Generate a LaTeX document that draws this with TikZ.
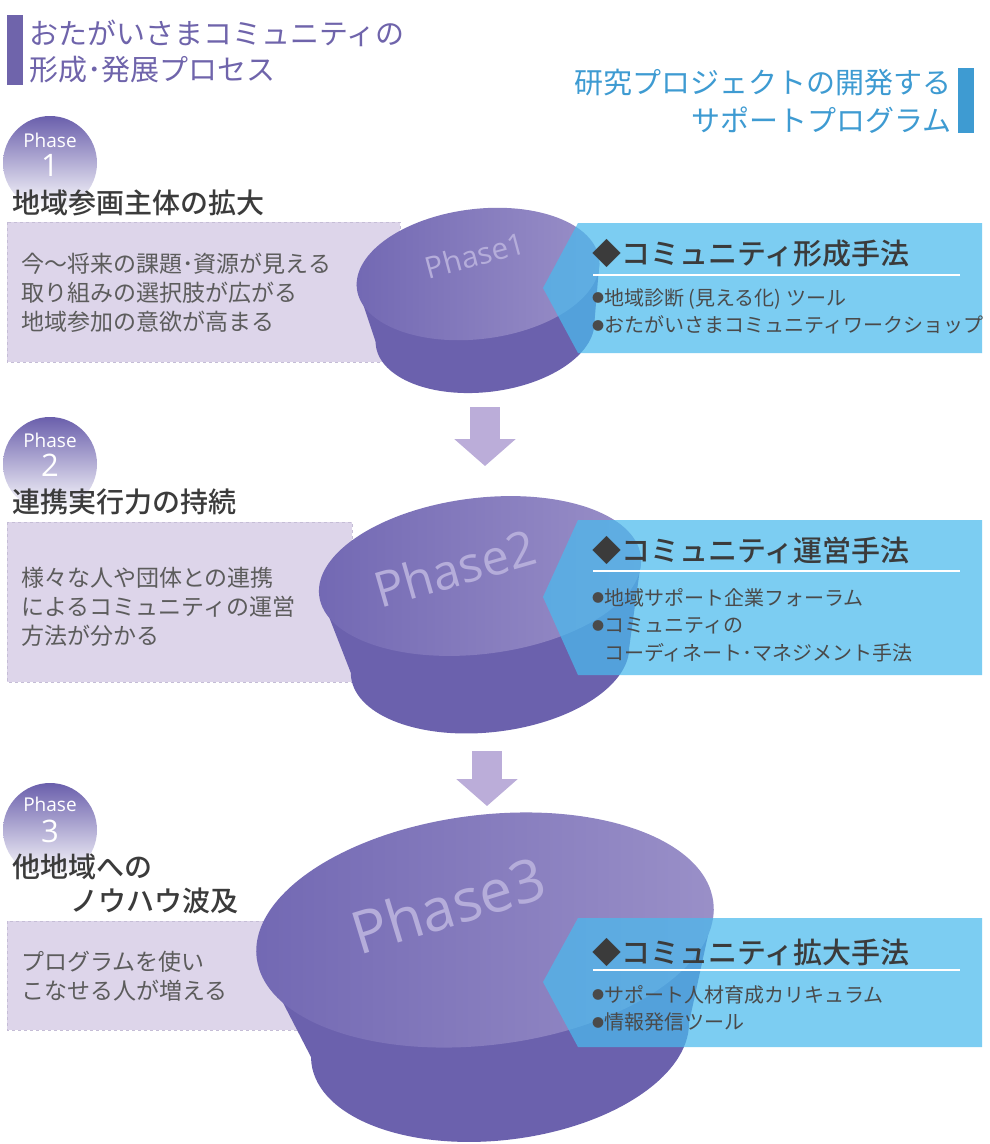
\documentclass[tikz,border=0pt]{standalone}
\usepackage{fontspec}
\setmainfont{Noto Sans CJK JP}
\newfontfamily\jpmedium{Noto Sans CJK JP}[UprightFont=* Medium]
\newfontfamily\phasefont{Open Sans}
\usetikzlibrary{arrows.meta}

\definecolor{titlepurple}{HTML}{6F64AB}
\definecolor{titleblue}{HTML}{3E9BD2}
\definecolor{phasepurple}{HTML}{6A5FAC}
\definecolor{topdark}{HTML}{7268B3}
\definecolor{toplight}{HTML}{9A90C8}
\definecolor{sidepurple}{HTML}{6B61AD}
\definecolor{descfill}{HTML}{DDD5EA}
\definecolor{descline}{HTML}{C5BDD6}
\definecolor{desctext}{HTML}{5C5C5C}
\definecolor{darktext}{HTML}{3B3B3B}
\definecolor{tooltext}{HTML}{4A4A4A}
\definecolor{methodblue}{RGB}{74,186,237}
\definecolor{arrowlilac}{HTML}{BBADD9}
\definecolor{phaselabel}{HTML}{B5ADDA}

\newcommand{\dotmark}{\raisebox{2.6pt}{\fontsize{12}{12}\selectfont ●}}

% disc: name, top centre, rx, ry, bottom centre, rx, ry
\newcommand{\phasedisc}[7]{%
  \begin{scope}[shift={#2},rotate=7]
    \coordinate (#1tl) at (176.5:#3pt and #4pt);
    \coordinate (#1tr) at (-3.5:#3pt and #4pt);
  \end{scope}
  \begin{scope}[shift={#5},rotate=7]
    \coordinate (#1bl) at (176.5:#6pt and #7pt);
    \coordinate (#1br) at (-3.5:#6pt and #7pt);
  \end{scope}
  \fill[sidepurple,rotate around={7:#5}] #5 ellipse [x radius=#6pt, y radius=#7pt];
  \fill[sidepurple] (#1tl) -- (#1tr) -- (#1br) -- (#1bl) -- cycle;
  \shade[left color=topdark,right color=toplight,rotate around={7:#2}] #2 ellipse [x radius=#3pt, y radius=#4pt];
  \coordinate (#1) at #2;
}

\begin{document}
\begin{tikzpicture}[x=1pt,y=-1pt,
    title/.style={anchor=west,inner sep=0pt,text=titlepurple,font=\fontsize{29}{29}\selectfont},
    subtitle/.style={anchor=east,inner sep=0pt,text=titleblue,font=\fontsize{29}{29}\selectfont},
    badge/.style={circle,minimum size=94pt,inner sep=0pt,top color=phasepurple,middle color=phasepurple!85!white,bottom color=white},
    badgeword/.style={text=white,inner sep=0pt,font=\phasefont\fontsize{19}{19}\selectfont},
    badgenum/.style={text=white,inner sep=0pt,font=\phasefont\fontsize{31}{31}\selectfont},
    goal/.style={anchor=west,inner sep=0pt,text=darktext,font=\jpmedium\fontsize{28}{34}\selectfont},
    descbox/.style={draw=descline,dashed,fill=descfill,line width=1pt},
    desc/.style={anchor=west,inner sep=0pt,align=left,text=desctext,font=\fontsize{23}{29}\selectfont},
    methodbox/.style={fill=methodblue,fill opacity=0.72},
    methodhead/.style={anchor=west,inner sep=0pt,text=darktext,font=\jpmedium\fontsize{29}{29}\selectfont},
    tool/.style={anchor=west,inner sep=0pt,align=left,text=tooltext,font=\fontsize{20}{27.5}\selectfont},
    disclabel/.style={text=phaselabel,inner sep=0pt,font=\phasefont\fontsize{#1}{#1}\selectfont},
    flowarrow/.style={draw=arrowlilac,line width=30pt,-{Triangle[length=27pt,width=60pt]}}
  ]
  \fill[white] (0,0) rectangle (989,1144);
  \useasboundingbox (0,0) rectangle (989,1144);

  % headers
  \fill[titlepurple] (7,15) rectangle (23,85);
  \node[title] (process1) at (29,33) {おたがいさまコミュニティの};
  \node[title] (process2) at (29,70) {形成･発展プロセス};
  \fill[titleblue] (958,68) rectangle (974,133);
  \node[subtitle] (program1) at (952,83) {研究プロジェクトの開発する};
  \node[subtitle] (program2) at (952,120) {サポートプログラム};

  % effect boxes
  \draw[descbox] (7,222) rectangle (400,362);
  \draw[descbox] (7,522) rectangle (352,682);
  \draw[descbox] (7,921) rectangle (300,1030);

  % discs
  \phasedisc{disc1}{(478,274)}{122}{65}{(485,332)}{110}{60}
  \phasedisc{disc2}{(480,576)}{162}{78}{(490,660)}{140}{72}
  \phasedisc{disc3}{(485,930)}{230}{115}{(500,1040)}{190}{100}
  \node[disclabel=30,rotate=15] (disc1label) at (475,255) {Phase1};
  \node[disclabel=49,rotate=16] (disc2label) at (455,568) {Phase2};
  \node[disclabel=59,rotate=17] (disc3label) at (448,905) {Phase3};

  % method boxes
  \fill[methodbox] (578,223) -- (982,223) -- (982,353) -- (578,353) -- (543,288) -- cycle;
  \fill[methodbox] (578,520) -- (982,520) -- (982,675) -- (578,675) -- (543,597) -- cycle;
  \fill[methodbox] (578,918) -- (982,918) -- (982,1047) -- (578,1047) -- (543,982) -- cycle;

  \node[methodhead] (method1) at (592,253) {◆コミュニティ形成手法};
  \draw[white,line width=1.5pt] (593,275) -- (960,275);
  \node[tool] (tools1) at (592,311.5) {\dotmark 地域診断 (見える化) ツール\\\dotmark おたがいさまコミュニティワークショップ};

  \node[methodhead] (method2) at (592,550) {◆コミュニティ運営手法};
  \draw[white,line width=1.5pt] (593,571) -- (960,571);
  \node[tool] (tools2) at (592,625) {\dotmark 地域サポート企業フォーラム\\\dotmark コミュニティの\\\phantom{\dotmark}コーディネート･マネジメント手法};

  \node[methodhead] (method3) at (592,952) {◆コミュニティ拡大手法};
  \draw[white,line width=1.5pt] (593,970) -- (960,970);
  \node[tool] (tools3) at (592,1008.5) {\dotmark サポート人材育成カリキュラム\\\dotmark 情報発信ツール};

  % flow arrows
  \coordinate (flow1a) at (485,407);
  \coordinate (flow1b) at (485,466);
  \coordinate (flow2a) at (487,751);
  \coordinate (flow2b) at (487,806);
  \draw[flowarrow] (flow1a) -- (flow1b);
  \draw[flowarrow] (flow2a) -- (flow2b);

  % phase badges
  \node[badge] (badge1) at (50,163) {};
  \node[badgeword] (badge1word) at (50,140) {Phase};
  \node[badgenum] (badge1num) at (50,165) {1};
  \node[goal] (goal1) at (12,203) {地域参画主体の拡大};

  \node[badge] (badge2) at (50,464) {};
  \node[badgeword] (badge2word) at (50,440) {Phase};
  \node[badgenum] (badge2num) at (50,465) {2};
  \node[goal] (goal2) at (12,502) {連携実行力の持続};

  \node[badge] (badge3) at (50,830) {};
  \node[badgeword] (badge3word) at (50,804) {Phase};
  \node[badgenum] (badge3num) at (50,831) {3};
  \node[goal] (goal3a) at (12,867) {他地域への};
  \node[goal] (goal3b) at (70,901) {ノウハウ波及};

  % effect texts
  \node[desc] (effect1) at (21,292.5) {今〜将来の課題･資源が見える\\取り組みの選択肢が広がる\\地域参加の意欲が高まる};
  \node[desc] (effect2) at (21,606.5) {様々な人や団体との連携\\によるコミュニティの運営\\方法が分かる};
  \node[desc] (effect3) at (21,976.5) {プログラムを使い\\こなせる人が増える};
\end{tikzpicture}
\end{document}
